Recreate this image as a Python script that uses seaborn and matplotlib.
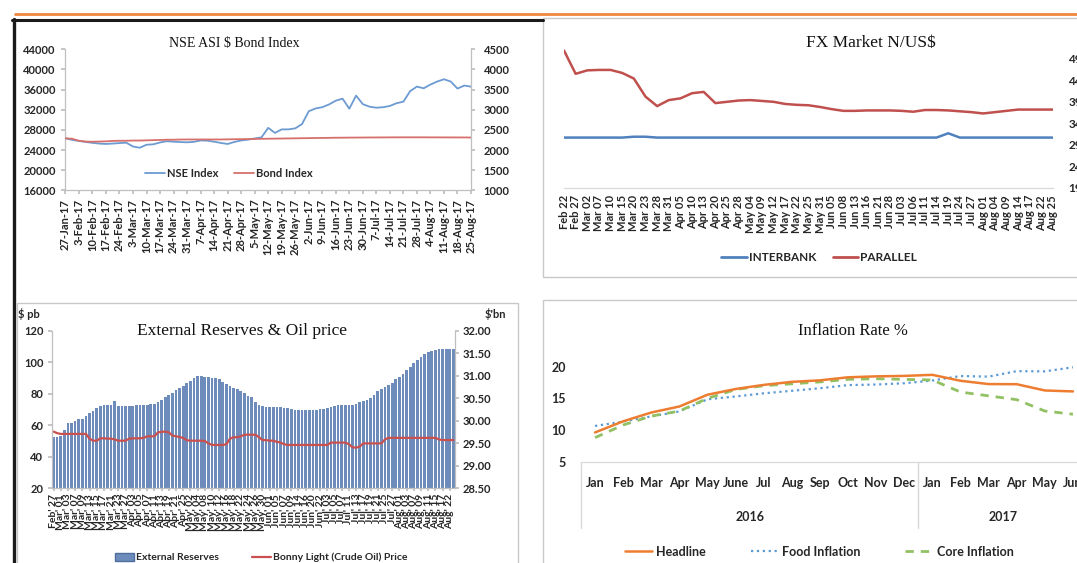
import numpy as np
import matplotlib
matplotlib.use("Agg")
import matplotlib.pyplot as plt
import matplotlib.transforms as mtransforms
from matplotlib.lines import Line2D
from matplotlib.patches import Rectangle, Patch
import seaborn as sns

W, H = 1077, 563

# ---------------- NSE ASI & Bond index ----------------
nse_ticks = ["27-Jan-17", "3-Feb-17", "10-Feb-17", "17-Feb-17", "24-Feb-17", "3-Mar-17",
             "10-Mar-17", "17-Mar-17", "24-Mar-17", "31-Mar-17", "7-Apr-17", "14-Apr-17",
             "21-Apr-17", "28-Apr-17", "5-May-17", "12-May-17", "19-May-17", "26-May-17",
             "2-Jun-17", "9-Jun-17", "16-Jun-17", "23-Jun-17", "30-Jun-17", "7-Jul-17",
             "14-Jul-17", "21-Jul-17", "28-Jul-17", "4-Aug-17", "11-Aug-17", "18-Aug-17",
             "25-Aug-17"]
# two readings per week
nse_index = [26330, 26000, 25800, 25600, 25420, 25280, 25200, 25280, 25380, 25450,
             24700, 24450, 25050, 25130, 25500, 25750, 25650, 25580, 25530, 25620,
             25900, 25850, 25650, 25400, 25200, 25600, 25900, 26050, 26300, 26500,
             28400, 27400, 28100, 28100, 28300, 29150, 31700, 32250, 32500, 33050,
             33800, 34200, 32200, 34800, 33100, 32600, 32400, 32500, 32750, 33300,
             33600, 35700, 36600, 36250, 37000, 37600, 38050, 37600, 36200, 36800,
             36580]
bond_index = [2290, 2280, 2230, 2210, 2205, 2210, 2215, 2225, 2230, 2230,
              2235, 2235, 2240, 2245, 2250, 2255, 2255, 2260, 2262, 2262,
              2262, 2262, 2262, 2262, 2265, 2268, 2270, 2272, 2275, 2278,
              2280, 2283, 2285, 2288, 2290, 2293, 2295, 2298, 2300, 2302,
              2305, 2306, 2308, 2309, 2310, 2311, 2312, 2313, 2314, 2315,
              2315, 2315, 2315, 2315, 2314, 2314, 2313, 2313, 2312, 2312,
              2310]

# ---------------- FX market ----------------
fx_dates = ["Feb 22", "Feb 27", "Mar 02", "Mar 07", "Mar 10", "Mar 15", "Mar 20", "Mar 23",
            "Mar 28", "Mar 31", "Apr 05", "Apr 10", "Apr 13", "Apr 20", "Apr 25", "Apr 28",
            "May 04", "May 09", "May 12", "May 17", "May 22", "May 25", "May 31", "Jun 05",
            "Jun 08", "Jun 13", "Jun 16", "Jun 21", "Jun 28", "Jul 03", "Jul 06", "Jul 11",
            "Jul 14", "Jul 19", "Jul 24", "Jul 27", "Aug 01", "Aug 04", "Aug 09", "Aug 14",
            "Aug 17", "Aug 22", "Aug 25"]
interbank = [307, 307, 307, 307, 307, 307, 309, 309, 307, 307,
             307, 307, 307, 307, 307, 307, 307, 307, 307, 307,
             307, 307, 307, 307, 307, 307, 307, 307, 307, 307,
             307, 307, 307, 317, 307, 307, 307, 307, 307, 307,
             307, 307, 307]
parallel = [509, 455, 463, 464, 464, 457, 444, 402, 380, 394,
            398, 410, 413, 387, 390, 393, 394, 392, 390, 385,
            383, 382, 378, 373, 369, 369, 370, 370, 370, 369,
            367, 371, 371, 370, 368, 366, 363, 366, 369, 372,
            372, 372, 372]

# ---------------- External reserves & oil ----------------
res_dates = ["Feb' 27",
             "Mar' 01", "Mar' 03", "Mar' 07", "Mar' 09", "Mar' 13", "Mar' 15", "Mar' 17",
             "Mar' 21", "Mar' 23", "Mar' 27",
             "Apr' 03", "Apr' 05", "Apr' 07", "Apr' 11", "Apr' 13", "Apr' 19", "Apr' 21",
             "Apr' 25",
             "May' 02", "May' 04", "May' 08", "May' 10", "May' 12", "May' 16", "May' 18",
             "May' 22", "May' 24", "May' 26", "May' 30",
             "Jun' 01", "Jun' 05", "Jun' 07", "Jun' 09", "Jun' 14", "Jun' 16", "Jun' 20",
             "Jun' 22",
             "Jul' 03", "Jul' 05", "Jul' 07", "Jul' 11", "Jul' 13", "Jul' 17", "Jul' 19",
             "Jul' 21", "Jul' 25", "Jul' 27",
             "Aug' 01", "Aug' 03", "Aug' 07", "Aug' 09", "Aug' 11", "Aug' 15", "Aug' 17",
             "Aug' 22"]
reserves = [29.65, 29.65, 29.66, 29.80, 29.94, 29.96, 30.00, 30.03, 30.05, 30.10,
            30.18, 30.22, 30.28, 30.32, 30.36, 30.36, 30.36, 30.43,
            30.33, 30.33, 30.33, 30.33, 30.33, 30.34, 30.34, 30.35,
            30.36, 30.37, 30.38, 30.42, 30.46, 30.52, 30.58, 30.62, 30.68, 30.72,
            30.77, 30.83, 30.88, 30.94, 30.99, 30.99, 30.98, 30.97, 30.96, 30.95,
            30.92, 30.86, 30.82, 30.78, 30.73, 30.70, 30.65, 30.61, 30.56, 30.52,
            30.42, 30.36, 30.33,
            30.31, 30.31, 30.30, 30.30, 30.30, 30.29, 30.28, 30.26,
            30.24, 30.23, 30.23, 30.23, 30.23, 30.24, 30.24, 30.26, 30.27,
            30.29, 30.31,
            30.33, 30.34, 30.35, 30.34, 30.35, 30.36, 30.38,
            30.41, 30.44, 30.47, 30.50,
            30.58, 30.66, 30.71, 30.76, 30.80, 30.84, 30.92, 30.98, 31.04,
            31.12, 31.20, 31.28, 31.34, 31.42, 31.48, 31.52, 31.55,
            31.58, 31.59, 31.59, 31.59, 31.59, 31.59]
oil_price = [56.0, 55.0, 54.5, 54.5, 54.5, 54.5, 54.5, 54.5, 54.5, 54.5,
             51.5, 50.2, 50.2, 51.7, 51.7, 51.5, 51.5, 51.0, 50.2, 50.2,
             50.2, 51.5, 51.7, 51.7, 51.7, 52.0, 53.0, 53.0, 53.0, 55.5,
             55.8, 56.0, 55.5, 53.5, 53.0, 52.5, 52.0, 50.5, 50.2, 50.2,
             50.2, 50.2, 50.0, 48.5, 47.5, 47.5, 47.5, 47.5, 48.0, 51.5,
             52.4, 52.4, 53.0, 54.0, 54.0, 54.0, 54.0, 52.5, 50.6, 50.6,
             50.2, 50.2, 49.5, 49.0, 48.0,
             47.5, 47.5, 47.5, 47.5, 47.5, 47.5, 47.5, 47.5, 47.5, 47.5, 47.5, 47.5,
             49.0, 49.0, 49.0, 49.0, 49.0, 48.0, 46.0, 45.8, 46.5,
             48.5, 48.5, 48.5, 48.5, 48.5, 48.5, 51.0,
             52.0, 52.0, 52.0, 52.0, 52.0, 52.0, 52.0, 52.0, 52.0, 52.0, 52.0, 52.0, 52.0, 52.0,
             51.0, 50.6, 50.6, 50.6, 50.6]

# ---------------- Inflation ----------------
months = ["Jan", "Feb", "Mar", "Apr", "May", "June", "Jul", "Aug", "Sep", "Oct", "Nov", "Dec",
          "Jan", "Feb", "Mar", "Apr", "May", "Jun"]
years = ["2016", "2017"]
headline = [9.62, 11.38, 12.77, 13.72, 15.58, 16.48, 17.13, 17.61, 17.85, 18.33, 18.48, 18.55,
            18.72, 17.78, 17.26, 17.24, 16.25, 16.10]
food_infl = [10.64, 11.35, 12.15, 12.94, 14.86, 15.30, 15.80, 16.20, 16.60, 17.10, 17.19, 17.39,
             17.82, 18.53, 18.44, 19.30, 19.27, 19.91]
core_infl = [8.8, 10.8, 12.2, 13.0, 15.0, 16.4, 17.0, 17.3, 17.6, 18.0, 18.1, 18.0,
             17.9, 16.0, 15.4, 14.8, 13.0, 12.5]

sns.set_theme(style="white")
plt.rcParams["font.family"] = ["Lato", "DejaVu Sans"]
plt.rcParams["font.weight"] = "bold"
plt.rcParams["axes.unicode_minus"] = False

AXC = "#BFBFBF"
SERIF = "Liberation Serif"

fig = plt.figure(figsize=(W / 100, H / 100), dpi=100)
fig.patch.set_facecolor("white")


def box(l, t, r, b):
    return [l / W, 1 - b / H, (r - l) / W, (b - t) / H]


def fpt(x, y):
    return (x / W, 1 - y / H)


def clean(ax, keep=()):
    for side in ["top", "bottom", "left", "right"]:
        ax.spines[side].set_visible(side in keep)
        ax.spines[side].set_color(AXC)
        ax.spines[side].set_linewidth(0.9)
    ax.set_xlabel("")
    ax.set_ylabel("")
    ax.set_facecolor("none")


def title(x, y, s, size):
    fig.text(x / W, 1 - y / H, s, ha="center", va="center", family=SERIF,
             fontweight="normal", fontsize=size, color="#111111", parse_math=False)


# ---- panel frames ----
fig.add_artist(Line2D([15 / W, 1], [1 - 13.5 / H] * 2, color="#F0883E", lw=2.0))
fig.add_artist(Line2D([12 / W, 543 / W], [1 - 20 / H] * 2, color="#1A1A1A", lw=2.2))
fig.add_artist(Line2D([13.8 / W] * 2, [1 - 19 / H, 0], color="#1A1A1A", lw=2.4))
fig.add_artist(Rectangle((543 / W, 1 - 277 / H), (1090 - 543) / W, (277 - 18) / H,
                         fill=False, edgecolor="#C8C8C8", lw=1, transform=fig.transFigure))
fig.add_artist(Rectangle((16.5 / W, -0.05), (518 - 16.5) / W, 1 - 302.7 / H + 0.05,
                         fill=False, edgecolor="#C8C8C8", lw=1, transform=fig.transFigure))
fig.add_artist(Rectangle((542.7 / W, -0.05), (1090 - 542.7) / W, 1 - 300 / H + 0.05,
                         fill=False, edgecolor="#C8C8C8", lw=1, transform=fig.transFigure))

# ---- NSE ASI & Bond index ----
ax1 = fig.add_axes(box(65.4, 49.3, 471, 190.3))
x_nse = np.arange(len(nse_index))
sns.lineplot(x=x_nse, y=nse_index, ax=ax1, color="#6C9BD2", linewidth=1.3)
ax1b = ax1.twinx()
sns.lineplot(x=x_nse, y=bond_index, ax=ax1b, color="#D7706D", linewidth=1.3)
ax1.set_xlim(0, len(nse_index) - 1)
ax1.set_ylim(16000, 44000)
ax1.set_yticks(range(16000, 44001, 4000))
ax1b.set_ylim(1000, 4500)
ax1b.set_yticks(range(1000, 4501, 500))
ax1.set_xticks(x_nse[::2])
ax1.set_xticklabels(nse_ticks, rotation=90)
clean(ax1, keep=("left", "bottom"))
clean(ax1b, keep=("right",))
ax1.tick_params(axis="y", length=3, color=AXC, labelsize=8, pad=4, left=True)
ax1.tick_params(axis="x", length=3, color=AXC, labelsize=8, pad=3, bottom=True)
ax1b.tick_params(axis="y", length=3, color=AXC, labelsize=8, pad=6, right=True)
title(234, 43.5, "NSE ASI $ Bond Index", 10)
ax1.legend([Line2D([], [], color="#6C9BD2", lw=1.3), Line2D([], [], color="#D7706D", lw=1.3)],
           ["NSE Index", "Bond Index"], loc="center", bbox_to_anchor=fpt(229, 173.3),
           bbox_transform=fig.transFigure, ncol=2, frameon=False, fontsize=8,
           handlelength=1.8, handletextpad=0.2, columnspacing=1.4)

# ---- FX market ----
ax2 = fig.add_axes(box(564, 45.8, 1053, 188))
x_fx = np.arange(len(fx_dates))
sns.lineplot(x=x_fx, y=parallel, ax=ax2, color="#C0504D", linewidth=1.8)
sns.lineplot(x=x_fx, y=interbank, ax=ax2, color="#4F81BD", linewidth=1.8)
ax2.set_xlim(0, len(fx_dates) - 1)
ax2.set_ylim(190, 520)
ax2.set_yticks(range(190, 491, 50))
ax2.yaxis.tick_right()
ax2.set_xticks(x_fx)
ax2.set_xticklabels(fx_dates, rotation=90)
clean(ax2, keep=("bottom",))
ax2.spines["bottom"].set_color("#D9D9D9")
ax2.tick_params(axis="y", length=0, labelsize=8.5, pad=11)
ax2.tick_params(axis="x", length=0, labelsize=8, pad=5)
title(871, 43.5, "FX Market N/US$", 12.5)
ax2.legend([Line2D([], [], color="#4F81BD", lw=2), Line2D([], [], color="#C0504D", lw=2)],
           ["INTERBANK", "PARALLEL"], loc="center", bbox_to_anchor=fpt(819, 258),
           bbox_transform=fig.transFigure, ncol=2, frameon=False, fontsize=8.5,
           handlelength=2.2, handletextpad=0.1, columnspacing=1.4)

# ---- External reserves & oil price ----
axr = fig.add_axes(box(51.7, 330.7, 455.2, 488.3))
x_res = np.arange(len(reserves))
sns.barplot(x=x_res, y=reserves, ax=axr, color="#6D8CBB", saturation=1, width=0.75,
            edgecolor="none")
axl = axr.twinx()
sns.lineplot(x=x_res, y=oil_price, ax=axl, color="#C9504F", linewidth=1.6)
# bars belong to the right ($'bn) axis, oil price to the left ($ pb) axis
axr.yaxis.tick_right()
axl.yaxis.tick_left()
axr.set_ylim(28.5, 32.0)
axr.set_yticks(np.arange(28.5, 32.01, 0.5))
axr.set_yticklabels([f"{v:.2f}" for v in np.arange(28.5, 32.01, 0.5)])
axl.set_ylim(20, 120)
axl.set_yticks(range(20, 121, 20))
axr.set_xlim(-0.5, len(reserves) - 0.5)
axr.set_xticks(x_res[::2])
axr.set_xticklabels(res_dates, rotation=90)
clean(axr, keep=("bottom", "right"))
clean(axl, keep=("left",))
axr.tick_params(axis="y", length=3, color=AXC, labelsize=8, pad=2, right=True, left=False,
                labelright=True, labelleft=False)
axl.tick_params(axis="y", length=3, color=AXC, labelsize=8, pad=3, left=True, right=False,
                labelleft=True, labelright=False)
axr.tick_params(axis="x", length=2, color=AXC, labelsize=7.5, pad=2, bottom=True)
title(242, 331, "External Reserves & Oil price", 12.5)
fig.text(28.5 / W, 1 - 314 / H, "$ pb", ha="center", va="center", fontsize=8, parse_math=False)
fig.text(495 / W, 1 - 314 / H, "$'bn", ha="center", va="center", fontsize=8, parse_math=False)
axr.legend([Patch(facecolor="#6D8CBB", edgecolor="#4F6E9E"), Line2D([], [], color="#C9504F", lw=1.6)],
           ["External Reserves", "Bonny Light (Crude Oil) Price"], loc="center",
           bbox_to_anchor=fpt(261.5, 557.5), bbox_transform=fig.transFigure, ncol=2,
           frameon=False, fontsize=7.5, handlelength=1.8, handleheight=0.8,
           handletextpad=0.2, columnspacing=3.2)

# ---- Inflation rate ----
ax4 = fig.add_axes(box(581, 341.4, 1087, 461.7))
x_inf = np.arange(len(months))
sns.lineplot(x=x_inf, y=food_infl, ax=ax4, color="#5B9BD5", linewidth=1.6, linestyle=":")
sns.lineplot(x=x_inf, y=core_infl, ax=ax4, color="#92C164", linewidth=2.0,
             linestyle=(0, (3, 2.5)))
sns.lineplot(x=x_inf, y=headline, ax=ax4, color="#ED7D31", linewidth=1.8)
ax4.set_xlim(-0.5, len(months) - 0.5)
ax4.set_ylim(5, 24)
ax4.set_yticks([5, 10, 15, 20])
ax4.set_xticks(x_inf)
ax4.set_xticklabels(months)
clean(ax4, keep=("bottom",))
ax4.spines["bottom"].set_color("#D9D9D9")
ax4.tick_params(axis="y", length=0, labelsize=9, pad=11)
ax4.tick_params(axis="x", length=0, labelsize=9, pad=11)
trans = mtransforms.blended_transform_factory(ax4.transData, ax4.transAxes)
low = -(528 - 461.7) / (461.7 - 341.4)
for xs in [-0.5, 11.5]:
    ax4.plot([xs, xs], [0, low], color="#D9D9D9", lw=1, transform=trans, clip_on=False)
ymid = -(517.3 - 461.7) / (461.7 - 341.4)
ax4.text(5.5, ymid, years[0], transform=trans, ha="center", va="center", fontsize=9)
ax4.text(14.5, ymid, years[1], transform=trans, ha="center", va="center", fontsize=9)
title(853, 330.7, "Inflation Rate %", 12)
ax4.legend([Line2D([], [], color="#ED7D31", lw=1.8),
            Line2D([], [], color="#5B9BD5", lw=1.6, linestyle=":"),
            Line2D([], [], color="#92C164", lw=2.0, linestyle=(0, (3, 2.5)))],
           ["Headline", "Food Inflation", "Core Inflation"], loc="center",
           bbox_to_anchor=fpt(819, 551.7), bbox_transform=fig.transFigure, ncol=3,
           frameon=False, fontsize=9, handlelength=2.2, handletextpad=0.3, columnspacing=3.6)

fig.savefig("out.png", dpi=100)
